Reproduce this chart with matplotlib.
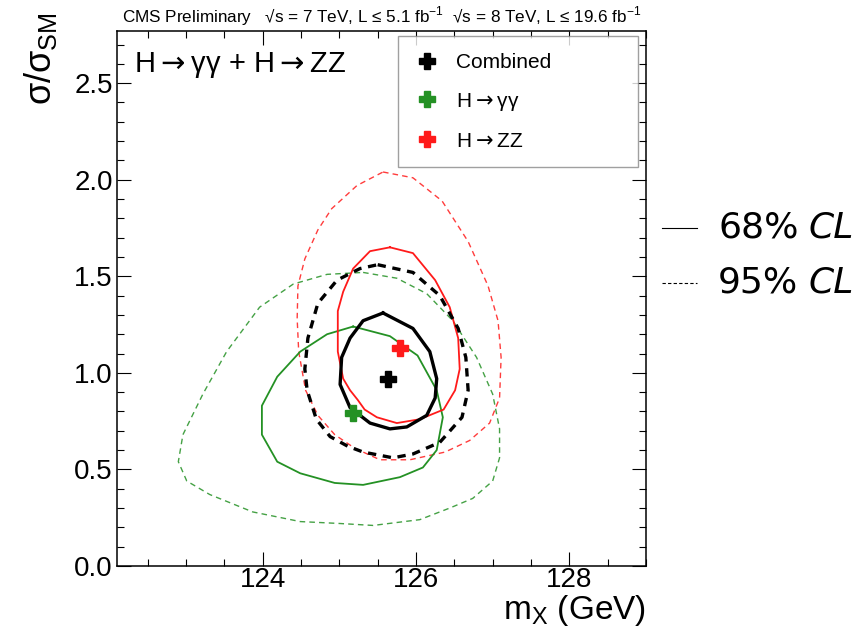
import matplotlib
matplotlib.use("Agg")
import matplotlib.pyplot as plt
from matplotlib.lines import Line2D
from matplotlib.ticker import MultipleLocator

plt.rcParams['font.family'] = ['Liberation Sans', 'DejaVu Sans']
plt.rcParams['mathtext.fontset'] = 'dejavusans'

# best-fit points (m_X in GeV, sigma/sigma_SM)
comb_best = (125.64, 0.97)
gg_best = (125.18, 0.79)
zz_best = (125.79, 1.13)

# combined contours
comb68_m = [125.57, 125.96, 126.18, 126.27, 126.25, 126.14, 125.88, 125.66, 125.40, 125.14, 125.01, 125.03, 125.14, 125.31]
comb68_mu = [1.31, 1.23, 1.11, 0.97, 0.87, 0.78, 0.72, 0.71, 0.74, 0.82, 0.94, 1.08, 1.18, 1.27]
comb95_m = [125.50, 125.96, 126.31, 126.55, 126.65, 126.68, 126.60, 126.31, 125.96, 125.70, 125.31, 125.11, 124.88, 124.70, 124.58, 124.55, 124.59, 124.72, 124.97, 125.27]
comb95_mu = [1.56, 1.52, 1.40, 1.23, 1.08, 0.91, 0.77, 0.64, 0.58, 0.56, 0.59, 0.62, 0.67, 0.76, 0.91, 1.02, 1.18, 1.36, 1.48, 1.54]

# H -> ZZ contours
zz68_m = [125.66, 125.96, 126.25, 126.44, 126.55, 126.57, 126.51, 126.36, 126.05, 125.75, 125.49, 125.33, 125.24, 125.14, 125.05, 124.98, 124.98, 125.05, 125.18, 125.40]
zz68_mu = [1.65, 1.62, 1.48, 1.34, 1.18, 1.02, 0.91, 0.81, 0.76, 0.74, 0.77, 0.81, 0.86, 0.91, 0.97, 1.11, 1.32, 1.42, 1.54, 1.63]
zz95_m = [125.57, 125.96, 126.34, 126.68, 126.94, 127.07, 127.11, 127.09, 126.96, 126.70, 126.38, 125.92, 125.53, 125.20, 124.94, 124.72, 124.56, 124.47, 124.45, 124.46, 124.55, 124.72, 124.90, 125.23]
zz95_mu = [2.04, 2.01, 1.89, 1.68, 1.45, 1.27, 1.08, 0.87, 0.74, 0.65, 0.59, 0.55, 0.55, 0.61, 0.68, 0.78, 0.91, 1.11, 1.28, 1.45, 1.59, 1.74, 1.85, 1.97]

# H -> gamma gamma contours
gg68_m = [125.18, 125.66, 126.02, 126.27, 126.35, 126.27, 126.09, 125.79, 125.31, 124.94, 124.49, 124.19, 123.99, 123.99, 124.19, 124.49, 124.84]
gg68_mu = [1.24, 1.19, 1.09, 0.91, 0.77, 0.60, 0.51, 0.46, 0.42, 0.43, 0.48, 0.54, 0.68, 0.83, 0.98, 1.11, 1.20]
gg95_m = [125.31, 125.75, 126.14, 126.48, 126.79, 127.00, 127.09, 127.09, 127.00, 126.74, 126.44, 126.05, 125.44, 125.01, 124.49, 123.87, 123.31, 123.01, 122.90, 122.96, 123.22, 123.53, 123.96, 124.40, 124.84]
gg95_mu = [1.52, 1.49, 1.41, 1.27, 1.08, 0.89, 0.71, 0.56, 0.44, 0.35, 0.30, 0.24, 0.21, 0.22, 0.23, 0.28, 0.37, 0.44, 0.54, 0.68, 0.89, 1.11, 1.34, 1.46, 1.51]

black = 'black'
green = '#249124'
red = '#ff1a1a'
arrow = r'$\rightarrow$'


def closed(a):
    return list(a) + [a[0]]


fig = plt.figure(figsize=(8.63, 6.32), dpi=100)
ax = fig.add_axes([117/863, 66/632, 529/863, 535/632])

ax.plot(closed(gg95_m), closed(gg95_mu), color=green, lw=1.0, ls=(0, (4, 3)), alpha=0.85)
ax.plot(closed(zz95_m), closed(zz95_mu), color=red, lw=1.0, ls=(0, (4, 3)), alpha=0.85)
ax.plot(closed(gg68_m), closed(gg68_mu), color=green, lw=1.3, solid_joinstyle='round')
ax.plot(closed(zz68_m), closed(zz68_mu), color=red, lw=1.3, solid_joinstyle='round')
ax.plot(closed(comb95_m), closed(comb95_mu), color=black, lw=2.4, ls=(0, (2.5, 2)))
ax.plot(closed(comb68_m), closed(comb68_mu), color=black, lw=2.4, solid_joinstyle='round')

ax.plot(*gg_best, marker='P', color=green, ms=11, ls='none')
ax.plot(*zz_best, marker='P', color=red, ms=11, ls='none')
ax.plot(*comb_best, marker='P', color=black, ms=11, ls='none')

ax.set_xlim(122.1, 129.0)
ax.set_ylim(0, 2.77)
ax.xaxis.set_major_locator(MultipleLocator(2))
ax.xaxis.set_minor_locator(MultipleLocator(0.5))
ax.yaxis.set_major_locator(MultipleLocator(0.5))
ax.yaxis.set_minor_locator(MultipleLocator(0.1))
ax.yaxis.set_major_formatter(plt.FormatStrFormatter('%.1f'))
ax.tick_params(which='both', direction='in', top=True, right=True, width=0.8, labelsize=20)
ax.tick_params(which='major', length=10)
ax.tick_params(which='minor', length=5)
ax.tick_params(axis='x', pad=1)
ax.tick_params(axis='y', pad=3)
for s in ax.spines.values():
    s.set_linewidth(1.1)

ax.set_xlabel(r'm$_\mathregular{X}$ (GeV)', fontsize=24, ha='right', va='top')
ax.xaxis.set_label_coords(1.0, -0.05)
ax.set_ylabel(r'σ/σ$_\mathregular{SM}$', fontsize=26, ha='right', va='center')
ax.yaxis.set_label_coords(-0.145, 1.035)

ax.text(0.032, 0.965, 'H' + arrow + 'γγ + H' + arrow + 'ZZ', transform=ax.transAxes,
        fontsize=21, va='top', ha='left')

fig.text(122/863, 1 - 16/632,
         'CMS Preliminary   √s = 7 TeV, L ≤ 5.1 fb$^\\mathregular{-1}$  √s = 8 TeV, L ≤ 19.6 fb$^\\mathregular{-1}$',
         fontsize=12.3, va='center', ha='left')

handles = [Line2D([], [], marker='P', color=c, ms=11, ls='none') for c in (black, green, red)]
labels = ['Combined', 'H' + arrow + 'γγ', 'H' + arrow + 'ZZ']
leg = ax.legend(handles, labels, loc='upper left',
                bbox_to_anchor=(0.531, 0.759, 0.454, 0.231), mode='expand',
                borderaxespad=0, fontsize=15, frameon=True, fancybox=False,
                borderpad=0.8, labelspacing=0.9, handlelength=1.2, handletextpad=0.8)
leg.get_frame().set_edgecolor('#888888')
leg.get_frame().set_linewidth(1.0)

# confidence level key outside the frame
fig.add_artist(Line2D([662/863, 697/863], [1 - 228/632, 1 - 228/632], color='black', lw=0.8))
fig.add_artist(Line2D([662/863, 697/863], [1 - 283/632, 1 - 283/632], color='black', lw=0.8, ls=(0, (3, 2))))
for ypx, lab in ((228, '68%'), (283, '95%')):
    fig.text(718/863, 1 - ypx/632, lab, fontsize=26, family='DejaVu Sans', va='center', ha='left')
    fig.text(808/863, 1 - ypx/632, 'CL', fontsize=26, family='DejaVu Sans', style='italic', va='center', ha='left')

fig.savefig('out.png', dpi=100)
